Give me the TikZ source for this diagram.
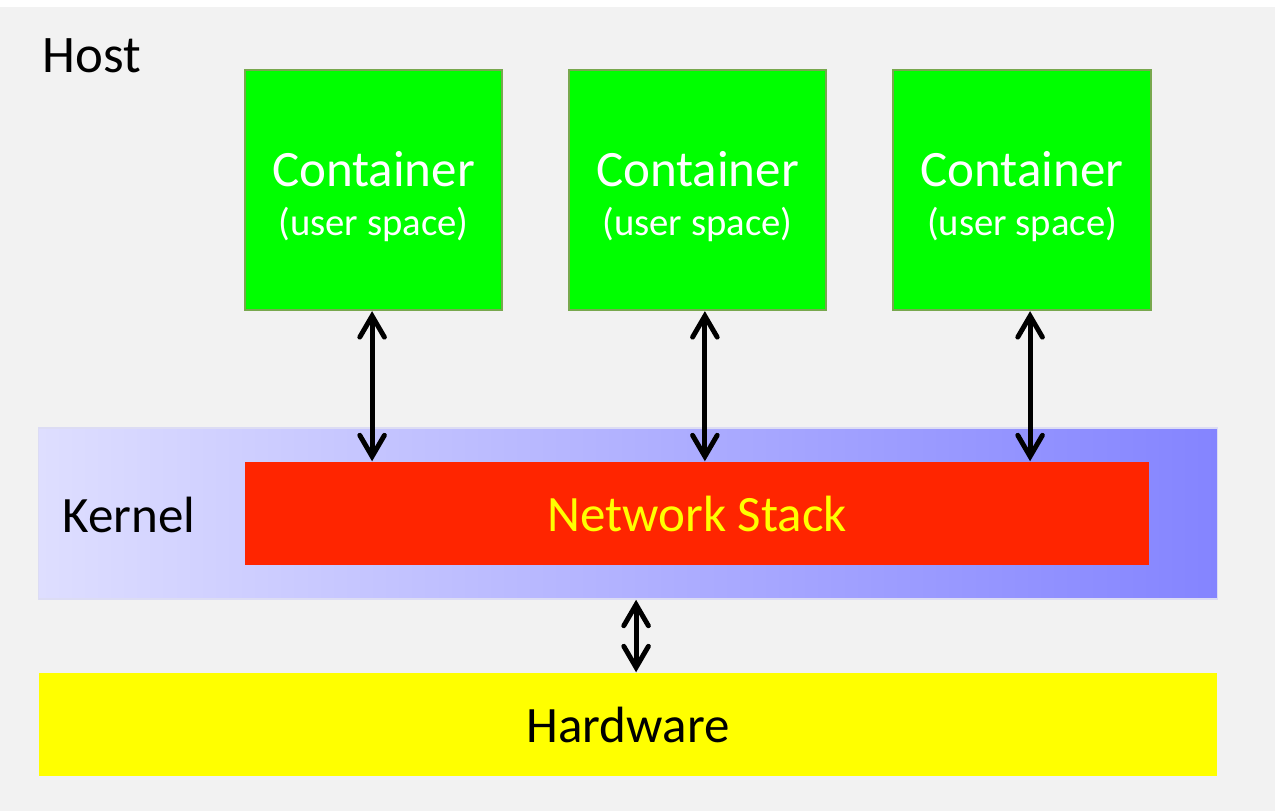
\documentclass[tikz,border=0pt]{standalone}
\usepackage{fontspec}
\setmainfont{Carlito}
\usepackage{tikz}
\usetikzlibrary{positioning, arrows.meta}

\definecolor{hostgray}{HTML}{F2F2F2}
\definecolor{contgreen}{HTML}{00FF00}
\definecolor{contedge}{HTML}{78A84E}
\definecolor{kernleft}{HTML}{DEDEFF}
\definecolor{kernright}{HTML}{8484FF}
\definecolor{kernedge}{HTML}{DCDCF4}
\definecolor{stackred}{HTML}{FF2500}
\definecolor{hwyellow}{HTML}{FFFF00}

\begin{document}
\begin{tikzpicture}
            [x=0.01cm, y=-0.01cm,
             container/.style={rectangle, draw=contedge, line width=0.6pt, fill=contgreen,
                               text=white, align=center, inner sep=0pt,
                               text height=28.1pt, text depth=2.5pt,
                               minimum width=2.57cm, minimum height=2.40cm},
             layer/.style={rectangle, inner sep=0pt, font=\fontsize{14.5}{17}\selectfont},
             dblarrow/.style={{Straight Barb[length=6pt, width=7pt, line cap=round]}-{Straight Barb[length=6pt, width=7pt, line cap=round]},
                              line width=1.4pt}]

            \useasboundingbox (0,0) rectangle (1275,811);
            \fill[hostgray] (0,7) rectangle (1275,811);

            \node[anchor=base west, inner sep=0pt, font=\fontsize{15}{18}\selectfont] (host) at (42,72) {Host};

            % kernel and its network stack
            \node[layer, left color=kernleft, right color=kernright, draw=kernedge, line width=0.4pt,
                  minimum width=11.78cm, minimum height=1.71cm] (kernel) at (628,513.5) {};
            \node[anchor=base west, inner sep=0pt, font=\fontsize{14.5}{17}\selectfont] (kernlabel) at (62,532) {Kernel};
            \node[layer, fill=stackred, text=hwyellow, minimum width=9.04cm, minimum height=1.03cm] (stack) at (697,513.5) {Network Stack};

            \node[layer, fill=hwyellow, minimum width=11.78cm, minimum height=1.03cm] (hw) at (628,724.5) {Hardware};

            % containers
            \node[container] (c1) at (373.5,190) {\fontsize{14.5}{17}\selectfont Container\\[1.8pt]\fontsize{11}{13}\selectfont (user space)};
            \node[container] (c2) at (697.5,190) {\fontsize{14.5}{17}\selectfont Container\\[1.8pt]\fontsize{11}{13}\selectfont (user space)};
            \node[container] (c3) at (1022,190) {\fontsize{14.5}{17}\selectfont Container\\[1.8pt]\fontsize{11}{13}\selectfont (user space)};

            \draw[dblarrow] ([xshift=-0.4pt]c1.south) -- ([xshift=-0.4pt]c1.south |- stack.north);
            \draw[dblarrow] ([xshift=2.1pt]c2.south) -- ([xshift=2.1pt]c2.south |- stack.north);
            \draw[dblarrow] ([xshift=2.3pt]c3.south) -- ([xshift=2.3pt]c3.south |- stack.north);
            \draw[dblarrow] ([xshift=2.3pt]kernel.south) -- ([xshift=2.3pt]kernel.south |- hw.north);
        \end{tikzpicture}
\end{document}
